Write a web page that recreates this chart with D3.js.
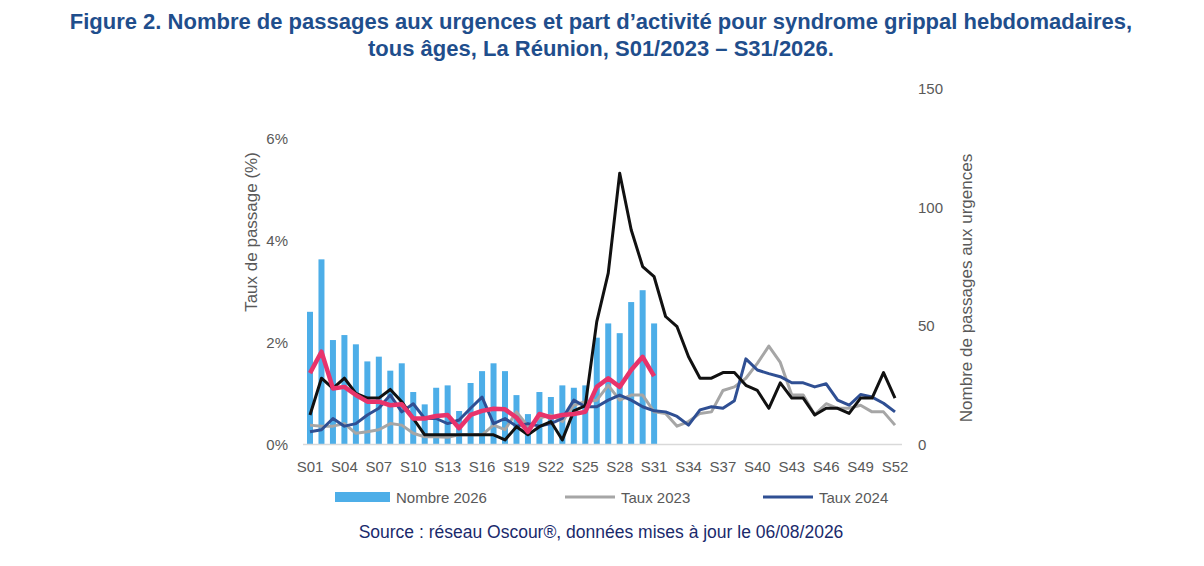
<!DOCTYPE html>
<html><head><meta charset="utf-8">
<script src="https://cdn.jsdelivr.net/npm/d3@7"></script>
<style>body{margin:0;background:#fff;font-family:"Liberation Sans",Arial,sans-serif}</style>
</head><body><svg id="c" width="1204" height="566"></svg>
<script>
// data
const weeks = d3.range(1, 53).map(i => 'S' + String(i).padStart(2, '0'));
const nombre2026 = [55.7,77.8,43.8,45.9,42,34.8,36.8,30.9,34,21.9,16.7,23.7,24.7,13.9,25.7,30.7,34,30.7,20.6,12.6,21.9,19.8,24.7,23.7,24.7,44.8,50.8,46.7,59.8,64.8,50.8];
const taux2026 = [1.39,1.81,1.09,1.12,0.96,0.83,0.83,0.76,0.78,0.5,0.5,0.55,0.57,0.31,0.57,0.65,0.69,0.68,0.52,0.24,0.59,0.52,0.57,0.59,0.63,1.12,1.29,1.12,1.45,1.71,1.33];
const taux2025 = [0.57,1.29,1.09,1.29,0.99,0.9,0.9,1.07,0.83,0.5,0.18,0.18,0.18,0.18,0.18,0.18,0.18,0.08,0.34,0.18,0.34,0.44,0.08,0.65,0.75,2.4,3.35,5.31,4.2,3.48,3.28,2.5,2.3,1.71,1.29,1.29,1.4,1.4,1.15,1.05,0.7,1.2,0.9,0.9,0.57,0.7,0.7,0.6,0.9,0.9,1.4,0.9];
const taux2023 = [0.37,0.35,0.35,0.4,0.21,0.24,0.28,0.4,0.37,0.21,0.14,0.14,0.13,0.18,0.18,0.18,0.37,0.28,0.63,0.35,0.51,0.57,0.44,0.76,0.83,0.86,1.15,0.86,0.96,0.96,0.63,0.6,0.35,0.44,0.6,0.63,1.05,1.12,1.29,1.58,1.92,1.6,0.96,0.96,0.57,0.79,0.7,0.7,0.76,0.63,0.63,0.37];
const taux2024 = [0.24,0.28,0.5,0.35,0.4,0.57,0.7,0.96,0.63,0.79,0.5,0.5,0.4,0.47,0.7,0.92,0.4,0.5,0.35,0.4,0.35,0.4,0.5,0.86,0.73,0.73,0.86,0.96,0.86,0.73,0.65,0.63,0.54,0.37,0.67,0.73,0.7,0.85,1.67,1.45,1.38,1.32,1.2,1.2,1.12,1.18,0.86,0.76,0.97,0.92,0.8,0.63];
const leftTicks = [0, 2, 4, 6];
const rightTicks = [0, 50, 100, 150];

const svg = d3.select('#c');
const x = d3.scalePoint().domain(weeks).range([310, 895]);
const yL = d3.scaleLinear().domain([0, 6]).range([444, 138]);
const yR = d3.scaleLinear().domain([0, 150]).range([444, 88]);

// title
svg.append('text').attr('x', 601).attr('y', 29).attr('text-anchor', 'middle')
  .attr('font-size', 22).attr('font-weight', 'bold').attr('fill', '#1f4e8c')
  .text('Figure 2. Nombre de passages aux urgences et part d\u2019activit\u00e9 pour syndrome grippal hebdomadaires,');
svg.append('text').attr('x', 601).attr('y', 56).attr('text-anchor', 'middle')
  .attr('font-size', 22).attr('font-weight', 'bold').attr('fill', '#1f4e8c')
  .text('tous \u00e2ges, La R\u00e9union, S01/2023 \u2013 S31/2026.');

// bars
svg.selectAll('rect.bar').data(nombre2026).join('rect')
  .attr('x', (d, i) => x(weeks[i]) - 3).attr('width', 6)
  .attr('y', d => yR(d)).attr('height', d => 444 - yR(d)).attr('fill', '#4daee8');

// baseline
svg.append('line').attr('x1', 303).attr('x2', 902).attr('y1', 444.5).attr('y2', 444.5)
  .attr('stroke', '#d9d9d9').attr('stroke-width', 1.5);

const line = d3.line().x((d, i) => x(weeks[i])).y(d => yL(d));
const series = [[taux2023, '#a6a6a6', 3], [taux2024, '#2f4f93', 3], [taux2025, '#111', 3], [taux2026, '#e8336b', 4.5]];
series.forEach(([d, c, w]) => svg.append('path').attr('d', line(d)).attr('fill', 'none')
  .attr('stroke', c).attr('stroke-width', w).attr('stroke-linejoin', 'round'));

// axes text
const tc = '#595959';
svg.selectAll('text.xl').data(weeks.filter((d, i) => i % 3 === 0)).join('text')
  .attr('x', d => x(d)).attr('y', 472).attr('text-anchor', 'middle').attr('font-size', 15).attr('fill', tc).text(d => d);
svg.selectAll('text.yl').data(leftTicks).join('text')
  .attr('x', 288).attr('y', d => yL(d) + 6).attr('text-anchor', 'end').attr('font-size', 15).attr('fill', tc).text(d => d + '%');
svg.selectAll('text.yr').data(rightTicks).join('text')
  .attr('x', 918).attr('y', d => yR(d) + 6).attr('text-anchor', 'start').attr('font-size', 15).attr('fill', tc).text(d => d);
svg.append('text').attr('transform', 'translate(257,232) rotate(-90)').attr('text-anchor', 'middle')
  .attr('font-size', 17).attr('fill', tc).text('Taux de passage  (%)');
svg.append('text').attr('transform', 'translate(972,288) rotate(-90)').attr('text-anchor', 'middle')
  .attr('font-size', 17).attr('fill', tc).text('Nombre de passages aux urgences');

// legend
const leg = svg.append('g').attr('font-size', 15).attr('fill', tc);
leg.append('rect').attr('x', 335).attr('y', 492).attr('width', 55).attr('height', 10).attr('fill', '#4daee8');
leg.append('text').attr('x', 396).attr('y', 503).text('Nombre 2026');
[[565, '#a6a6a6', 'Taux 2023'], [763, '#2f4f93', 'Taux 2024']].forEach(([lx, c, t]) => {
  leg.append('line').attr('x1', lx).attr('x2', lx + 50).attr('y1', 497).attr('y2', 497).attr('stroke', c).attr('stroke-width', 3);
  leg.append('text').attr('x', lx + 56).attr('y', 503).text(t);
});

svg.append('text').attr('x', 601).attr('y', 538).attr('text-anchor', 'middle').attr('font-size', 17.5)
  .attr('fill', '#1a2a6c').text('Source : r\u00e9seau Oscour\u00ae, donn\u00e9es mises \u00e0 jour le 06/08/2026');
</script></body></html>
